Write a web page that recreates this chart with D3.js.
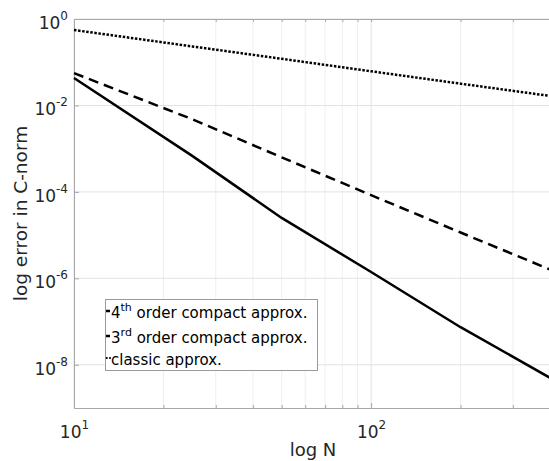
<!DOCTYPE html>
<html>
<head>
<meta charset="utf-8">
<script src="https://cdn.jsdelivr.net/npm/d3@7"></script>
<style>
  body { margin: 0; background: #fff; }
  svg { display: block; }
</style>
</head>
<body>
<div id="chart"></div>
<script>
// values (log-log convergence plot)
const N = [10, 25, 50, 100, 200, 400];
const err4th = [4.3e-2, 6.8e-4, 2.5e-5, 1.4e-6, 7.4e-8, 5.0e-9];
const err3rd = [5.6e-2, 4.8e-3, 6.3e-4, 8.4e-5, 1.15e-5, 1.6e-6];
const errClassic = [0.557, 0.232, 0.12, 0.0617, 0.0319, 0.0166];
const xMajor = [10, 100];
const xMinor = [20, 30, 40, 50, 60, 70, 80, 90, 200, 300, 400];
const yTicks = [1e0, 1e-2, 1e-4, 1e-6, 1e-8];
const yExp = ['0', '-2', '-4', '-6', '-8'];
const xExp = ['1', '2'];
const legendNames = [['4', 'th', ' order compact approx.'], ['3', 'rd', ' order compact approx.'], ['classic approx.', '', '']];

const FONT = '"DejaVu Sans", sans-serif';
let W = 549, H = 461;
let margin = {top: 19, right: -1, bottom: 53, left: 74}
  , width = W - margin.left - margin.right
  , height = H - margin.top - margin.bottom;

let svg = d3.select('#chart').append('svg')
  .attr('width', W).attr('height', H)
  .attr('font-family', FONT);

let x = d3.scaleLog().domain([10, 400]).range([margin.left, margin.left + width]);
let y = d3.scaleLog().domain([1e-9, 1]).range([margin.top + height, margin.top]);

// grid
let grid = svg.append('g');
grid.selectAll('.vminor').data(xMinor).enter().append('line')
  .attr('x1', d => x(d)).attr('x2', d => x(d))
  .attr('y1', margin.top).attr('y2', margin.top + height)
  .attr('stroke', '#efefef').attr('stroke-width', 1);
grid.selectAll('.vmajor').data(xMajor).enter().append('line')
  .attr('x1', d => x(d)).attr('x2', d => x(d))
  .attr('y1', margin.top).attr('y2', margin.top + height)
  .attr('stroke', '#e2e2e2').attr('stroke-width', 1);
grid.selectAll('.hmajor').data(yTicks).enter().append('line')
  .attr('x1', margin.left).attr('x2', margin.left + width)
  .attr('y1', d => y(d)).attr('y2', d => y(d))
  .attr('stroke', '#e2e2e2').attr('stroke-width', 1);

// axes (ticks inward)
let xAxis = svg.append('g')
  .attr('transform', 'translate(0,' + (margin.top + height) + ')')
  .call(d3.axisBottom(x).tickValues(xMajor).tickSize(-5).tickFormat(''));
let xAxisMinor = svg.append('g')
  .attr('transform', 'translate(0,' + (margin.top + height) + ')')
  .call(d3.axisBottom(x).tickValues(xMinor).tickSize(-3).tickFormat(''));
let xAxisTop = svg.append('g')
  .attr('transform', 'translate(0,' + margin.top + ')')
  .call(d3.axisTop(x).tickValues(xMajor.concat(xMinor)).tickSize(-3).tickFormat(''));
let yAxis = svg.append('g')
  .attr('transform', 'translate(' + margin.left + ',0)')
  .call(d3.axisLeft(y).tickValues(yTicks).tickSize(-5).tickFormat(''));

svg.selectAll('g').attr('font-family', FONT);
svg.selectAll('.domain').attr('stroke', '#a8a8a8');
svg.selectAll('.tick line').attr('stroke', '#a8a8a8');

// tick labels with superscripts
xAxis.selectAll('.tick').each(function(d, i) {
  let t = d3.select(this).append('text')
    .attr('y', 30).attr('text-anchor', 'middle')
    .attr('fill', '#262626').attr('font-size', 17);
  t.append('tspan').text('10');
  t.append('tspan').attr('dy', -9).attr('font-size', 12).text(xExp[i]);
});
yAxis.selectAll('.tick').each(function(d, i) {
  let t = d3.select(this).append('text')
    .attr('x', -6).attr('y', 9.5).attr('text-anchor', 'end')
    .attr('fill', '#262626').attr('font-size', 17);
  t.append('tspan').text('10');
  t.append('tspan').attr('dy', -9).attr('font-size', 12).text(yExp[i]);
});

// axis labels
svg.append('text')
  .attr('x', x(Math.sqrt(10 * 400)) + 1).attr('y', 456)
  .attr('text-anchor', 'middle').attr('font-size', 18).attr('fill', '#262626')
  .text('log N');
svg.append('text')
  .attr('transform', 'translate(27,' + (margin.top + height / 2) + ') rotate(-90)')
  .attr('text-anchor', 'middle').attr('font-size', 18.5).attr('fill', '#262626')
  .text('log error in C-norm');

// series
let line = d3.line().x(d => x(d[0])).y(d => y(d[1]));
let series = [
  {vals: err4th, dash: null},
  {vals: err3rd, dash: '10,6'},
  {vals: errClassic, dash: '2.5,1.6'}
];
series.forEach(function(s) {
  svg.append('path')
    .datum(N.map((n, i) => [n, s.vals[i]]))
    .attr('d', line)
    .attr('fill', 'none').attr('stroke', '#000')
    .attr('stroke-width', 2.5)
    .attr('stroke-dasharray', s.dash);
});

// legend
let lg = svg.append('g');
lg.append('rect')
  .attr('x', 105.5).attr('y', 299.5).attr('width', 212).attr('height', 71)
  .attr('fill', '#fff').attr('stroke', '#9a9a9a').attr('stroke-width', 1);
let rowY = [318, 343, 365];
legendNames.forEach(function(n, i) {
  lg.append('line')
    .attr('x1', 106).attr('x2', i == 2 ? 111 : 110)
    .attr('y1', rowY[i] - 7).attr('y2', rowY[i] - 7)
    .attr('stroke', '#000').attr('stroke-width', i == 2 ? 2 : 2.5)
    .attr('stroke-dasharray', i == 2 ? '1.6,1.6' : null);
  let t = lg.append('text')
    .attr('x', 111).attr('y', rowY[i])
    .attr('font-size', 15).attr('fill', '#000');
  t.append('tspan').text(n[0]);
  if (n[1]) {
    t.append('tspan').attr('dy', -7).attr('font-size', 11).text(n[1]);
    t.append('tspan').attr('dy', 7).text(n[2]);
  }
});
</script>
</body>
</html>
